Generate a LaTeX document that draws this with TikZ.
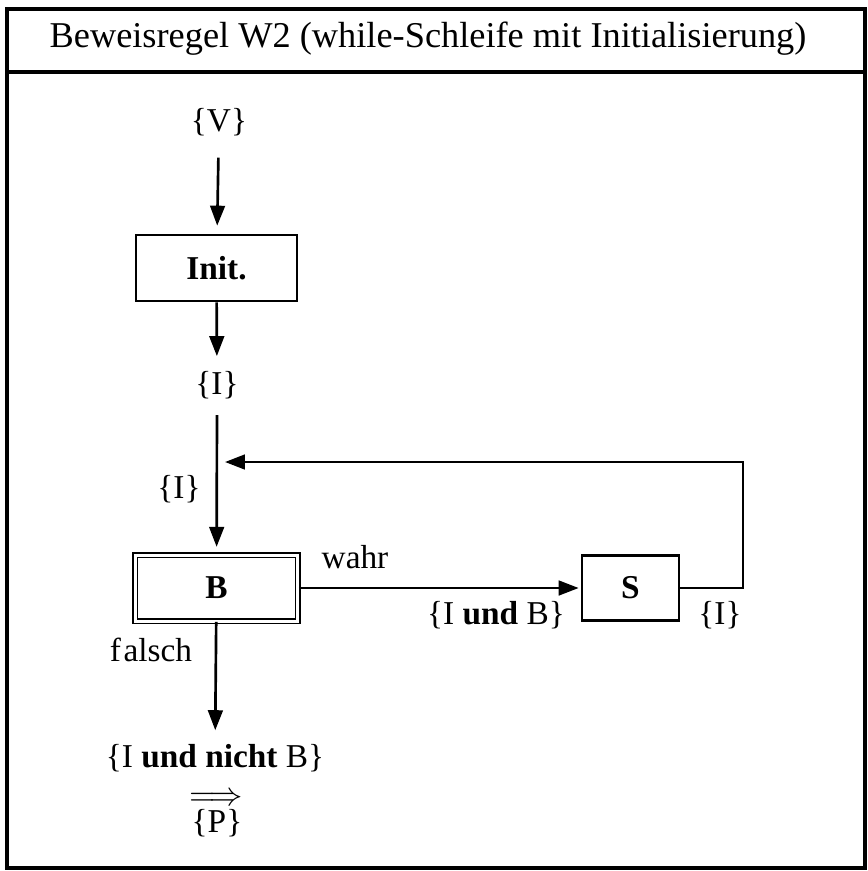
\documentclass[tikz,border=0pt]{standalone}
\usepackage{fontspec}
\setmainfont{Liberation Serif}
\usetikzlibrary{arrows.meta}

\begin{document}
\begin{tikzpicture}[x=0.3pt,y=-0.3pt,font=\fontsize{10}{12}\selectfont,
  flow/.style={-{Triangle[length=6pt,width=4.4pt]},line width=0.8pt},
  stmtbox/.style={draw,line width=0.8pt,font=\bfseries,inner sep=0pt},
  condbox/.style={draw,double,double distance=0.9pt,line width=0.5pt,font=\bfseries,inner sep=0pt}]
  \useasboundingbox (0,0) rectangle (868,871);
  %% frame with the title band on top
  \draw[line width=1pt] (7,9) rectangle (865,868);
  \draw[line width=1pt] (7,72) -- (865,72);
  \node[font=\fontsize{10.9}{13}\selectfont] (title) at (428,39) {Beweisregel W2 (while-Schleife mit Initialisierung)};

  %% assertions and statements, top to bottom
  \node (pre) at (219,122) {\{V\}};
  \node[stmtbox,minimum width=48.3pt,minimum height=19.8pt] (init) at (216.5,268) {Init.};
  \node (inv1) at (217,385) {\{I\}};
  \coordinate (top) at (217,415);
  \node (inv2) at (179,489) {\{I\}};
  \node[condbox,minimum width=48.9pt,minimum height=19.8pt] (cond) at (216.5,588) {B};
  \node[stmtbox,minimum width=29.1pt,minimum height=19.5pt] (body) at (630.5,588) {S};
  \node (true) at (355,557) {wahr};
  \node (iandb) at (496,615) {\{I \textbf{und} B\}};
  \node (inv3) at (720,615) {\{I\}};
  \node (false) at (151,650) {f\kern0.8pt alsch};
  \node[inner sep=0pt] (post) at (215,758) {\{I \textbf{und} \textbf{nicht} B\}};
  \node[inner sep=0pt,text height=3pt,text depth=0pt] (impl) at (216,800) {$\Longrightarrow$};
  \node[inner sep=0pt] (goal) at (217,823) {\{P\}};

  %% loop back from S to the entry of B
  \coordinate (back) at (743,462);
  \coordinate (join) at (217,462);

  \draw[flow,shorten <=3pt,shorten >=2.4pt] (pre) -- (init);
  \draw[flow,shorten >=1pt] (init) -- (inv1);
  \draw[flow,shorten >=2.2pt] (top) -- (cond);
  \draw[flow,shorten >=0.6pt] (cond) -- (body);
  \draw[flow,shorten >=2.4pt] (body) -| (back) -- (join);
  \draw[flow,shorten >=4pt] (cond) -- (post);
\end{tikzpicture}
\end{document}
